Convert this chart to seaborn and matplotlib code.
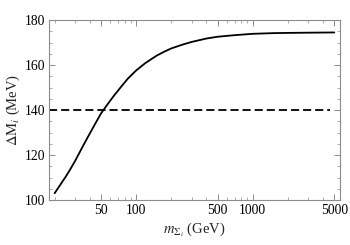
import matplotlib
matplotlib.use('Agg')
import matplotlib.pyplot as plt
import matplotlib.ticker as mticker
import seaborn as sns
import pandas as pd

# valores
mass = [20, 22, 25, 27, 30, 35, 40, 45, 50, 55, 60, 65, 75, 85, 100, 120, 150,
        175, 200, 250, 300, 400, 500, 700, 1000, 1500, 2000, 3000, 5000]
delta_m = [103.0, 106.2, 110.5, 113.3, 117.4, 124.0, 129.5, 134.3, 138.5, 141.5,
           144.2, 146.6, 150.6, 154.0, 157.6, 160.9, 164.2, 166.0, 167.4, 169.1,
           170.3, 171.8, 172.6, 173.3, 173.9, 174.2, 174.3, 174.4, 174.5]
ref_x = [17.9, 4600]
ref_y = [140, 140]

x_ticks = [50, 100, 500, 1000, 5000]
y_ticks = [100, 120, 140, 160, 180]

FRAME = "#8c8c8c"

sns.set_theme(style="ticks")
plt.rcParams["font.family"] = ["Liberation Serif", "DejaVu Serif"]
plt.rcParams["mathtext.fontset"] = "stix"

df = pd.DataFrame({"m": mass, "dm": delta_m})
ref = pd.DataFrame({"m": ref_x, "dm": ref_y})

fig = plt.figure(figsize=(3.5, 2.45), dpi=100)
ax = fig.add_axes([0.14, 0.1837, 0.831, 0.7343])

sns.lineplot(data=df, x="m", y="dm", color="black", linewidth=1.3, ax=ax)
sns.lineplot(data=ref, x="m", y="dm", color="black", linewidth=1.3,
             linestyle=(0, (4.5, 2.2)), ax=ax)

ax.set_xscale("log")
ax.set_xlim(17.9, 5580)
ax.set_ylim(100, 180)

ax.xaxis.set_major_locator(mticker.FixedLocator(x_ticks))
ax.xaxis.set_major_formatter(mticker.FixedFormatter([str(t) for t in x_ticks]))
ax.xaxis.set_minor_locator(mticker.LogLocator(base=10, subs=range(1, 10)))
ax.xaxis.set_minor_formatter(mticker.NullFormatter())
ax.yaxis.set_major_locator(mticker.FixedLocator(y_ticks))
ax.yaxis.set_minor_locator(mticker.MultipleLocator(5))

for s in ax.spines.values():
    s.set_color(FRAME)
    s.set_linewidth(0.8)
ax.tick_params(which="both", direction="in", top=True, right=True,
               color=FRAME, labelsize=9.8, labelcolor="black", pad=3)
ax.tick_params(which="major", length=4, width=0.7)
ax.tick_params(which="minor", length=2, width=0.5)

ax.set_xlabel(r"$m_{\Sigma_i}$ (GeV)", fontsize=10.5, labelpad=3)
ax.set_ylabel(r"$\Delta\mathrm{M}_i$ (MeV)", fontsize=10.5, labelpad=2)

fig.savefig("out.png", dpi=100)
